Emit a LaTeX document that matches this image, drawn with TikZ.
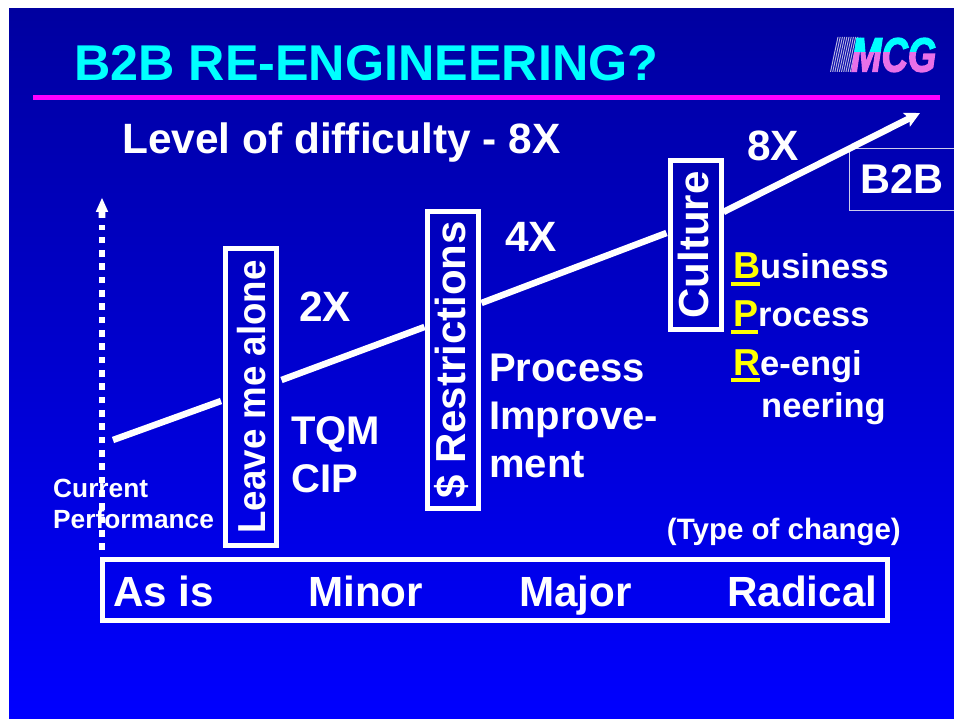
\documentclass[tikz,border=0pt]{standalone}
\usepackage{graphicx}
\usepackage{fontspec}
\setmainfont{Liberation Sans}
\newfontface\logofont{Liberation Sans Bold Italic}[FakeBold=3]
\usetikzlibrary{arrows.meta}
\definecolor{bgtop}{RGB}{0,0,160}
\definecolor{bgbot}{RGB}{0,0,255}
\definecolor{ttl}{RGB}{0,255,255}
\definecolor{mag}{RGB}{255,0,255}
\definecolor{pinkl}{RGB}{232,112,232}
\definecolor{yel}{RGB}{255,255,0}
\tikzset{
  txt/.style={text=white,font=\fontsize{#1}{#1}\selectfont\bfseries,inner sep=0pt,anchor=base west},
  vbox/.style={draw=white,line width=5pt,rotate=90,text=white,font=\fontsize{42}{42}\selectfont\bfseries,inner sep=0pt,minimum height=51pt,anchor=center,text depth=4pt,text height=29pt},
  ramp/.style={white,line width=6.5pt},
  bpr/.style={text=yel,font=\fontsize{37.5}{37.5}\selectfont\bfseries,inner sep=0pt,anchor=base west},
  logo/.style={font=\fontsize{48}{48}\logofont,inner sep=0pt,anchor=base west},
}
\begin{document}
\begin{tikzpicture}[x=1pt,y=-1pt]
\useasboundingbox (0,0) rectangle (954,719);
\fill[white] (0,0) rectangle (954,719);
\shade[top color=bgtop,bottom color=bgbot] (9,9) rectangle (954,719);
% title
\node[txt=50.3,text=ttl] (title) at (74,81) {B2B RE-ENGINEERING?};
\fill[mag] (33,95) rectangle (940,100);
\node[txt=42.4] (lod) at (122,154) {Level of difficulty - 8X};
% logo
\foreach \i in {0,...,9}{\fill[white!70!bgtop] ({830+\i*2.2},72) -- ({831+\i*2.2},72) -- ({838.5+\i*2.2},37) -- ({837.5+\i*2.2},37) -- cycle;}
\begin{scope}
\clip (845,30) rectangle (945,52.5);
\node[logo,text=ttl] (logoa) at (851,71.5) {\scalebox{.76}[1]{MCG}};
\end{scope}
\begin{scope}
\clip (845,52.5) rectangle (945,75);
\node[logo,text=pinkl] (logob) at (851,71.5) {\scalebox{.76}[1]{MCG}};
\end{scope}
% boxes
\node[vbox,minimum width=297pt,text height=32pt] (leave) at (251,397) {\scalebox{.94}[1]{\fontsize{39}{39}\selectfont Leave me alone}};
\node[vbox,minimum width=297pt] (restr) at (453,360) {\$ Restrictions};
\node[vbox,minimum width=169pt] (cult) at (695.5,245) {Culture};
\node[draw=white!80!bgtop,line width=1pt,minimum width=110pt,minimum height=62pt,inner sep=0pt,text=white,font=\fontsize{41.5}{41.5}\selectfont\bfseries] (btb) at (904,179.5) {B2B\rule{4pt}{0pt}};
\draw[draw=white,line width=5pt] (102,559.5) rectangle (887.5,620.5);
% ramp
\coordinate (r0) at (113,440);
\coordinate (r1) at (221,401);
\coordinate (r2) at (281.5,380);
\coordinate (r3) at (424.5,327);
\coordinate (r4) at (481.5,303);
\coordinate (r5) at (666.5,233);
\coordinate (r6) at (723.5,212);
\coordinate (r7) at (920,113);
\draw[ramp] (r0) -- (r1);
\draw[ramp] (r2) -- (r3);
\draw[ramp] (r4) -- (r5);
\draw[ramp,-{Stealth[length=15pt,width=15pt,inset=3pt]}] (r6) -- (r7);
% axis
\coordinate (a0) at (102,550);
\coordinate (a1) at (102,198);
\draw[white,line width=6.7pt,dash pattern=on 6.67pt off 6.67pt] (a0) -- (102,225);
\fill[white] (a1) -- (108.3,212) -- (105.3,212) -- (105.3,218) -- (98.7,218) -- (98.7,212) -- (95.7,212) -- cycle;
% labels
\node[txt=42.4] (x8) at (747,161) {8X};
\node[txt=42.4] (x4) at (505,252) {4X};
\node[txt=42.4] (x2) at (299,322) {2X};
\node[txt=40] (tqm) at (291,445) {TQM};
\node[txt=40] (cip) at (291,493) {CIP};
\node[txt=40] (pi1) at (489,382) {Process};
\node[txt=40] (pi2) at (489,430) {Improve-};
\node[txt=40] (pi3) at (489,478) {ment};
\node[txt=26.3] (cur) at (53,497) {Current};
\node[txt=26.3] (perf) at (53,528) {Performance};
\node[txt=29.5,anchor=base east] (type) at (901,539.5) {(Type of change)};
\node[txt=42.2] (asis) at (113,606) {As is};
\node[txt=42.2] (minor) at (308,606) {Minor};
\node[txt=42.2] (major) at (519,606) {Major};
\node[txt=42.2] (radical) at (727,606) {Radical};
% BPR
\node[bpr] (b) at (733,279) {B};
\node[txt=34.5] (bt) at (760,279) {usiness};
\node[bpr] (p) at (733,327) {P};
\node[txt=34.5] (pt) at (758,327) {rocess};
\node[bpr] (rr) at (733,376) {R};
\node[txt=34.5] (rt) at (760,376) {e-engi};
\node[txt=34.5] (nt) at (761,418) {neering};
\fill[yel] (731,282) rectangle (760,286);
\fill[yel] (731,330) rectangle (758,334);
\fill[yel] (731,378) rectangle (760,382);
\end{tikzpicture}
\end{document}
